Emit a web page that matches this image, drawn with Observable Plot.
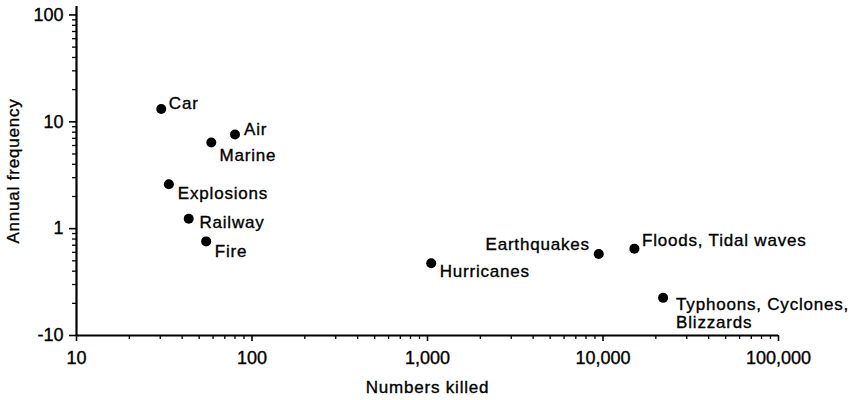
<!DOCTYPE html>
<html><head><meta charset="utf-8">
<script src="https://cdn.jsdelivr.net/npm/d3@7"></script>
<script src="https://cdn.jsdelivr.net/npm/@observablehq/plot@0.6"></script>
<style>
html,body{margin:0;padding:0;background:#fff;}
#chart svg{display:block;}
</style>
</head><body><div id="chart"></div>
<script>
const hazards = ["Car","Air","Marine","Explosions","Railway","Fire","Hurricanes","Earthquakes","Floods, Tidal waves","Typhoons, Cyclones, Blizzards"];
const labels = ["Car","Air","Marine","Explosions","Railway","Fire","Hurricanes","Earthquakes","Floods, Tidal waves","Typhoons, Cyclones,\nBlizzards"];
const numbersKilled = [30.4, 80, 58.6, 33.6, 43.6, 54.8, 1050, 9460, 15100, 22000];
const annualFrequency = [13.2, 7.6, 6.4, 2.6, 1.24, 0.76, 0.475, 0.58, 0.65, 0.225];
const xTicks = [10, 100, 1000, 10000, 100000];
const xTickLabels = ["10", "100", "1,000", "10,000", "100,000"];
const yTicks = [0.1, 1, 10, 100];
const yTickLabels = ["-10", "1", "10", "100"];
const xTitle = "Numbers killed";
const yTitle = "Annual frequency";

// label placement (style, kept apart from the data)
const placement = {
  "Car": {dx: 7.6, dy: -6, anchor: "start"},
  "Air": {dx: 9, dy: -5.7, anchor: "start"},
  "Marine": {dx: 8.3, dy: 12.3, anchor: "start"},
  "Explosions": {dx: 9, dy: 8.3, anchor: "start"},
  "Railway": {dx: 10.7, dy: 3.4, anchor: "start"},
  "Fire": {dx: 8.6, dy: 10, anchor: "start"},
  "Hurricanes": {dx: 8.5, dy: 8, anchor: "start"},
  "Earthquakes": {dx: -9, dy: -10, anchor: "end"},
  "Floods, Tidal waves": {dx: 7.6, dy: -9, anchor: "start"},
  "Typhoons, Cyclones, Blizzards": {dx: 13, dy: 15.2, anchor: "start"}
};

const data = hazards.map((name, i) => ({name, label: labels[i], killed: numbersKilled[i], freq: annualFrequency[i]}));

// minor tick positions for the log axes
const xMinor = [];
for (const d of xTicks.slice(0, -1)) for (let k = 2; k <= 9; k++) xMinor.push(d * k);
const yMinor = [];
for (const d of yTicks.slice(0, -1)) for (let k = 2; k <= 9; k++) yMinor.push(d * k);

const labelMarks = hazards.map(name => {
  const p = placement[name];
  return Plot.text(data.filter(d => d.name === name), {
    x: "killed", y: "freq", text: "label",
    dx: p.dx, dy: p.dy, textAnchor: p.anchor, lineAnchor: "middle",
    fontSize: 17, lineHeight: 1.08, fill: "black"
  });
});

const chart = Plot.plot({
  width: 858,
  height: 400,
  marginLeft: 76,
  marginRight: 80,
  marginTop: 6,
  marginBottom: 65,
  x: {type: "log", domain: [10, 100000]},
  y: {type: "log", domain: [0.1, 120]},
  style: {fontFamily: "'Liberation Sans', Arial, Helvetica, sans-serif", color: "black", background: "white"},
  marks: [
    Plot.axisX(xMinor, {tickSize: 4, tickFormat: () => "", strokeWidth: 1.3, label: null}),
    Plot.axisX(xTicks, {tickSize: 6, tickPadding: 10, strokeWidth: 1.6, fontSize: 18,
      tickFormat: d => xTickLabels[xTicks.indexOf(d)], label: null}),
    Plot.axisY(yMinor, {tickSize: 4, tickFormat: () => "", strokeWidth: 1.3, label: null}),
    Plot.axisY(yTicks, {tickSize: 7, tickPadding: 6, strokeWidth: 1.6, fontSize: 18,
      tickFormat: d => yTickLabels[yTicks.indexOf(d)], label: null}),
    Plot.ruleX([10], {stroke: "black", strokeWidth: 2.2}),
    Plot.ruleY([0.1], {stroke: "black", strokeWidth: 2.2}),
    Plot.dot(data, {x: "killed", y: "freq", r: 5, fill: "black", stroke: null}),
    ...labelMarks,
    Plot.text([xTitle], {frameAnchor: "bottom", dx: 0, dy: 52, textAnchor: "middle", lineAnchor: "middle", fontSize: 17, fill: "black"}),
    Plot.text([yTitle], {frameAnchor: "left", dx: -63, rotate: -90, textAnchor: "middle", lineAnchor: "middle", fontSize: 17, fill: "black"})
  ]
});
d3.select(chart).selectAll("g[aria-label='text'] text").attr("letter-spacing", "0.8px");
d3.select(chart).selectAll("text")
  .attr("stroke", "black").attr("stroke-width", 0.35).attr("paint-order", "stroke");
document.getElementById("chart").appendChild(chart);
</script>
</body></html>
